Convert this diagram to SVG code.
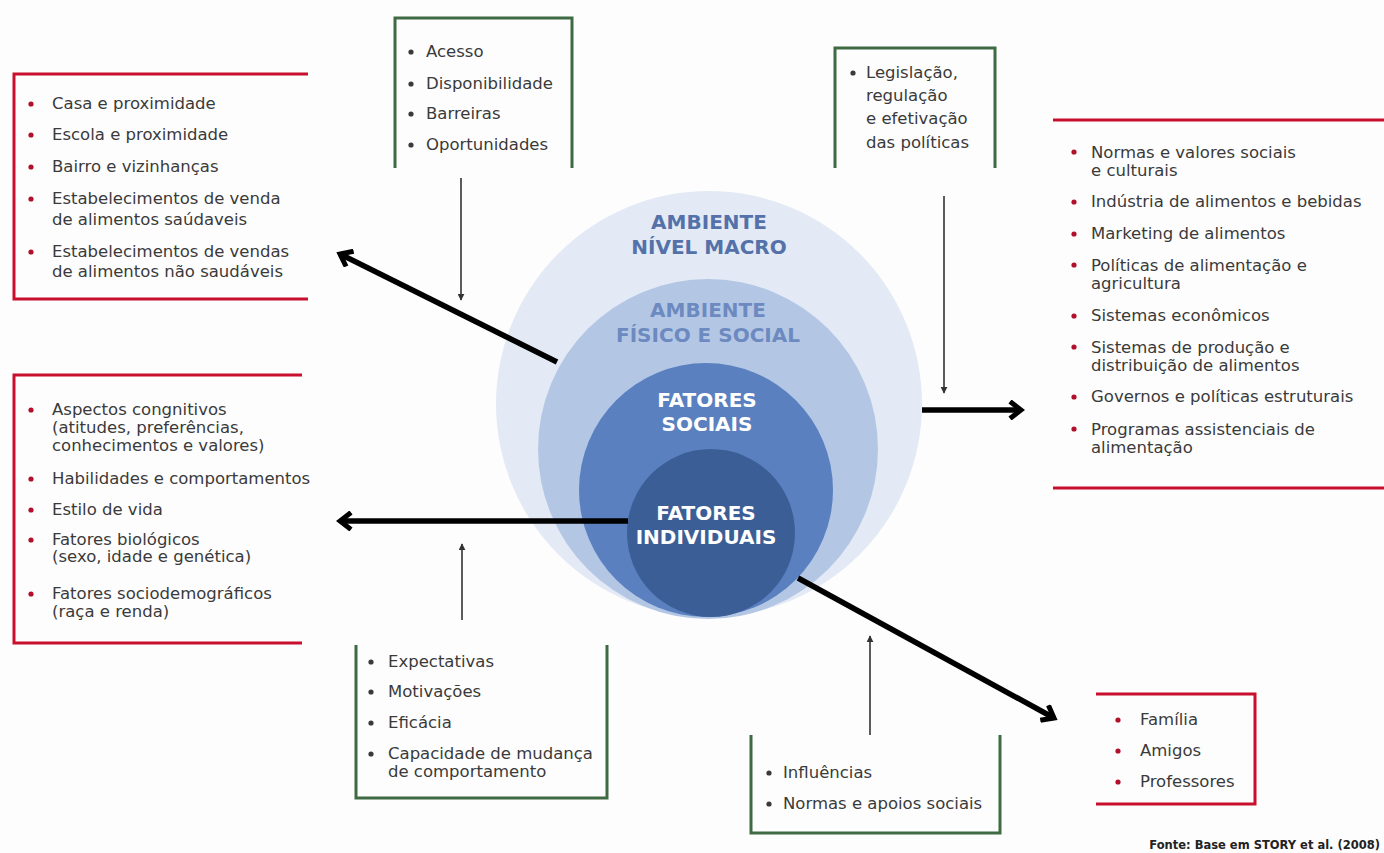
<svg xmlns="http://www.w3.org/2000/svg" width="1384" height="853" viewBox="0 0 1384 853">
  <style>
    .t { font-family: "DejaVu Sans", "Liberation Sans", sans-serif; font-size: 16.5px; fill: #3a3a3a; }
    .red { fill: none; stroke: #c8102e; stroke-width: 3; }
    .green { fill: none; stroke: #3f6b43; stroke-width: 3; }
    .br { fill: #b0102a; }
    .bg { fill: #3a3a3a; }
    .thick { fill: none; stroke: #000; stroke-width: 5.5; marker-end: url(#chev); }
    .thin { fill: none; stroke: #333; stroke-width: 1.6; marker-end: url(#tip); }
    .ring { font-family: "DejaVu Sans", "Liberation Sans", sans-serif; font-weight: bold; font-size: 20px; text-anchor: middle; }
    .foot { font-family: "DejaVu Sans", "Liberation Sans", sans-serif; font-weight: bold; font-size: 11.5px; fill: #222; text-anchor: end; }
  </style>
  <defs>
    <marker id="chev" viewBox="0 0 20 20" refX="16" refY="10" markerWidth="20" markerHeight="20" markerUnits="userSpaceOnUse" orient="auto">
      <path d="M5,1.5 L16,10 L5,18.5" fill="none" stroke="#000" stroke-width="5" stroke-linejoin="miter"/>
    </marker>
    <marker id="tip" viewBox="0 0 10 10" refX="9" refY="5" markerWidth="7" markerHeight="7" markerUnits="userSpaceOnUse" orient="auto">
      <path d="M0,0 L10,5 L0,10 Z" fill="#333"/>
    </marker>
  </defs>

  <rect x="0" y="0" width="1384" height="853" fill="#fdfdfd"/>

  <!-- nested circles -->
  <g id="circles">
    <circle cx="709" cy="404" r="213" fill="#e3eaf5"/>
    <circle cx="708" cy="449" r="170" fill="#b3c7e5"/>
    <circle cx="706" cy="490" r="127" fill="#5a80bf"/>
    <circle cx="711" cy="533" r="84" fill="#3c5e96"/>
  </g>
  <g id="macro">
    <text class="ring" x="709" y="229" fill="#5571a9">AMBIENTE</text>
    <text class="ring" x="709" y="254" fill="#5571a9">NÍVEL MACRO</text>
  </g>
  <g id="fisico-social">
    <text class="ring" x="708" y="317" fill="#6d8ac0">AMBIENTE</text>
    <text class="ring" x="708" y="342" fill="#6d8ac0">FÍSICO E SOCIAL</text>
  </g>
  <g id="sociais">
    <text class="ring" x="707" y="407" fill="#ffffff">FATORES</text>
    <text class="ring" x="707" y="431" fill="#ffffff">SOCIAIS</text>
  </g>
  <g id="individuais">
    <text class="ring" x="706" y="520" fill="#ffffff">FATORES</text>
    <text class="ring" x="706" y="544" fill="#ffffff">INDIVIDUAIS</text>
  </g>

  <!-- connectors: thick arrows leave the ring edges, thin ones come from the boxes -->
  <g id="connectors">
    <path class="thick" d="M557,362 L340,254"/>
    <path class="thick" d="M922,410 L1021,410"/>
    <path class="thick" d="M628,521 L340,521"/>
    <path class="thick" d="M798,578 L1054,718"/>
    <path class="thin" d="M461,178 L461,300"/>
    <path class="thin" d="M944,196 L944,393"/>
    <path class="thin" d="M462,620 L462,544"/>
    <path class="thin" d="M870,735 L870,636"/>
  </g>

  <!-- physical environment settings -->
  <g id="ambientes-fisicos">
    <path class="red" d="M308,74 H14 V299 H308"/>
    <circle class="br" cx="31" cy="104" r="2.6"/>
    <text class="t" x="52" y="109">Casa e proximidade</text>
    <circle class="br" cx="31" cy="135" r="2.6"/>
    <text class="t" x="52" y="140">Escola e proximidade</text>
    <circle class="br" cx="31" cy="167" r="2.6"/>
    <text class="t" x="52" y="172">Bairro e vizinhanças</text>
    <circle class="br" cx="31" cy="199" r="2.6"/>
    <text class="t" x="52" y="204">Estabelecimentos de venda</text>
    <text class="t" x="52" y="225">de alimentos saúdaveis</text>
    <circle class="br" cx="31" cy="252" r="2.6"/>
    <text class="t" x="52" y="257">Estabelecimentos de vendas</text>
    <text class="t" x="52" y="277">de alimentos não saudáveis</text>
  </g>

  <!-- individual factors -->
  <g id="fatores-individuais">
    <path class="red" d="M302,375 H14 V643 H302"/>
    <circle class="br" cx="31" cy="410" r="2.6"/>
    <text class="t" x="52" y="415">Aspectos congnitivos</text>
    <text class="t" x="52" y="433">(atitudes, preferências,</text>
    <text class="t" x="52" y="451">conhecimentos e valores)</text>
    <circle class="br" cx="31" cy="479" r="2.6"/>
    <text class="t" x="52" y="484">Habilidades e comportamentos</text>
    <circle class="br" cx="31" cy="510" r="2.6"/>
    <text class="t" x="52" y="515">Estilo de vida</text>
    <circle class="br" cx="31" cy="540" r="2.6"/>
    <text class="t" x="52" y="545">Fatores biológicos</text>
    <text class="t" x="52" y="562">(sexo, idade e genética)</text>
    <circle class="br" cx="31" cy="594" r="2.6"/>
    <text class="t" x="52" y="599">Fatores sociodemográficos</text>
    <text class="t" x="52" y="617">(raça e renda)</text>
  </g>

  <!-- access to food -->
  <g id="acesso">
    <path class="green" d="M395,168 V18 H572 V168"/>
    <circle class="bg" cx="411" cy="52" r="2.6"/>
    <text class="t" x="426" y="57">Acesso</text>
    <circle class="bg" cx="411" cy="84" r="2.6"/>
    <text class="t" x="426" y="89">Disponibilidade</text>
    <circle class="bg" cx="411" cy="114" r="2.6"/>
    <text class="t" x="426" y="119">Barreiras</text>
    <circle class="bg" cx="411" cy="145" r="2.6"/>
    <text class="t" x="426" y="150">Oportunidades</text>
  </g>

  <!-- policy -->
  <g id="legislacao">
    <path class="green" d="M835,168 V48 H995 V168"/>
    <circle class="bg" cx="853" cy="73" r="2.6"/>
    <text class="t" x="866" y="78">Legislação,</text>
    <text class="t" x="866" y="101">regulação</text>
    <text class="t" x="866" y="124">e efetivação</text>
    <text class="t" x="866" y="148">das políticas</text>
  </g>

  <!-- macro-level environment -->
  <g id="nivel-macro">
    <path class="red" d="M1053,120 H1384 M1053,488 H1384"/>
    <circle class="br" cx="1074" cy="152" r="2.6"/>
    <text class="t" x="1091" y="158">Normas e valores sociais</text>
    <text class="t" x="1091" y="176">e culturais</text>
    <circle class="br" cx="1074" cy="202" r="2.6"/>
    <text class="t" x="1091" y="207">Indústria de alimentos e bebidas</text>
    <circle class="br" cx="1074" cy="234" r="2.6"/>
    <text class="t" x="1091" y="239">Marketing de alimentos</text>
    <circle class="br" cx="1074" cy="265" r="2.6"/>
    <text class="t" x="1091" y="271">Políticas de alimentação e</text>
    <text class="t" x="1091" y="289">agricultura</text>
    <circle class="br" cx="1074" cy="316" r="2.6"/>
    <text class="t" x="1091" y="321">Sistemas econômicos</text>
    <circle class="br" cx="1074" cy="347" r="2.6"/>
    <text class="t" x="1091" y="353">Sistemas de produção e</text>
    <text class="t" x="1091" y="371">distribuição de alimentos</text>
    <circle class="br" cx="1074" cy="397" r="2.6"/>
    <text class="t" x="1091" y="402">Governos e políticas estruturais</text>
    <circle class="br" cx="1074" cy="429" r="2.6"/>
    <text class="t" x="1091" y="435">Programas assistenciais de</text>
    <text class="t" x="1091" y="453">alimentação</text>
  </g>

  <!-- personal drivers -->
  <g id="motivacoes">
    <path class="green" d="M356,645 V798 H607 V645"/>
    <circle class="bg" cx="371" cy="662" r="2.6"/>
    <text class="t" x="388" y="667">Expectativas</text>
    <circle class="bg" cx="371" cy="692" r="2.6"/>
    <text class="t" x="388" y="697">Motivações</text>
    <circle class="bg" cx="371" cy="723" r="2.6"/>
    <text class="t" x="388" y="728">Eficácia</text>
    <circle class="bg" cx="371" cy="754" r="2.6"/>
    <text class="t" x="388" y="759">Capacidade de mudança</text>
    <text class="t" x="388" y="777">de comportamento</text>
  </g>

  <!-- social influences -->
  <g id="influencias">
    <path class="green" d="M751,735 V833 H1000 V735"/>
    <circle class="bg" cx="769" cy="773" r="2.6"/>
    <text class="t" x="783" y="778">Influências</text>
    <circle class="bg" cx="769" cy="804" r="2.6"/>
    <text class="t" x="783" y="809">Normas e apoios sociais</text>
  </g>

  <!-- social network -->
  <g id="rede-social">
    <path class="red" d="M1096,694 H1255 V804 H1096"/>
    <circle class="br" cx="1118" cy="720" r="2.6"/>
    <text class="t" x="1140" y="725">Família</text>
    <circle class="br" cx="1118" cy="751" r="2.6"/>
    <text class="t" x="1140" y="756">Amigos</text>
    <circle class="br" cx="1118" cy="782" r="2.6"/>
    <text class="t" x="1140" y="787">Professores</text>
  </g>

  <text class="foot" x="1380" y="849">Fonte: Base em STORY et al. (2008)</text>
</svg>
